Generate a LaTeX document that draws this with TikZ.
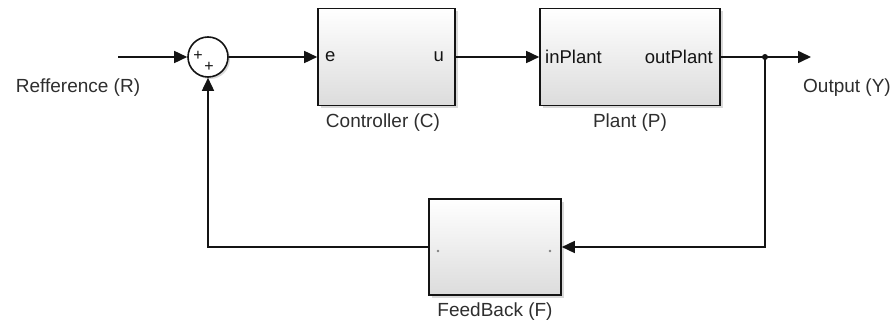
\documentclass[tikz,border=0pt]{standalone}
\usepackage{fontspec}
\setmainfont{Liberation Sans}
\usepackage{tikz}
\usepackage{xcolor}
\usetikzlibrary{arrows.meta,shadows}
\definecolor{ink}{HTML}{141414}
\definecolor{inkgray}{HTML}{2E2E2E}
\definecolor{blockbot}{HTML}{DCDCDC}
\tikzset{
  blockbox/.style={draw=ink,line width=1.6pt,top color=white,bottom color=blockbot,
                   inner sep=0pt,
                   drop shadow={shadow xshift=3pt,shadow yshift=-3pt,opacity=0.3}},
  sumnode/.style={circle,draw=ink,line width=1.6pt,fill=white,minimum size=40pt,
                  inner sep=0pt,
                  drop shadow={shadow xshift=2pt,shadow yshift=-2pt,opacity=0.3}},
  sign/.style={inner sep=0pt,text=ink,font=\fontsize{16}{16}\selectfont},
  lbl/.style={inner sep=0pt,text=inkgray,font=\fontsize{19}{21}\selectfont},
  portlbl/.style={inner sep=0pt,text=ink,font=\fontsize{18.5}{20}\selectfont},
  sigarr/.style={-{Triangle[length=13pt,width=12pt]},line width=1.6pt,draw=ink}
}
\begin{document}
\begin{tikzpicture}[x=1pt,y=1pt]
  \path[use as bounding box] (0,0) rectangle (894,-323);
  % blocks
  \node[sumnode] (sum) at (208,-57) {};
  \node[sign] (plusa) at (198,-56) {+};
  \node[sign] (plusb) at (209,-67) {+};
  \node[blockbox,minimum width=137pt,minimum height=97pt] (ctrl) at (386.5,-57) {};
  \node[blockbox,minimum width=180pt,minimum height=97pt] (plant) at (630,-57) {};
  \node[blockbox,minimum width=132pt,minimum height=96pt] (fb) at (495,-247) {};
  % ports
  \node[portlbl,anchor=west] (pe) at (325,-57) {e};
  \node[portlbl,anchor=east] (pu) at (444,-57) {u};
  \node[portlbl,anchor=west] (pin) at (545,-57) {inPlant};
  \node[portlbl,anchor=east] (pout) at (713,-57) {outPlant};
  \fill[gray] (438,-251) circle (1.3);
  \fill[gray] (550,-251) circle (1.3);
  % names
  \node[lbl] (rlbl) at (78,-88) {Refference (R)};
  \node[lbl] (ylbl) at (847,-88) {Output (Y)};
  \node[lbl] (clbl) at (383,-123) {Controller (C)};
  \node[lbl] (plbl) at (630,-123) {Plant (P)};
  \node[lbl] (flbl) at (495,-312) {FeedBack (F)};
  % wires
  \coordinate (in) at (118,-57);
  \coordinate (out) at (811,-57);
  \coordinate (split) at (765,-57);
  \draw[sigarr] (in) -- (sum.west);
  \draw[sigarr] (sum.east) -- (ctrl.west);
  \draw[sigarr] (ctrl.east) -- (plant.west);
  \draw[sigarr] (plant.east) -- (out);
  \fill[ink] (split) circle (3);
  \draw[sigarr] (split) |- (fb.east);
  \draw[sigarr] (fb.west) -| (sum.south);
\end{tikzpicture}
\end{document}
